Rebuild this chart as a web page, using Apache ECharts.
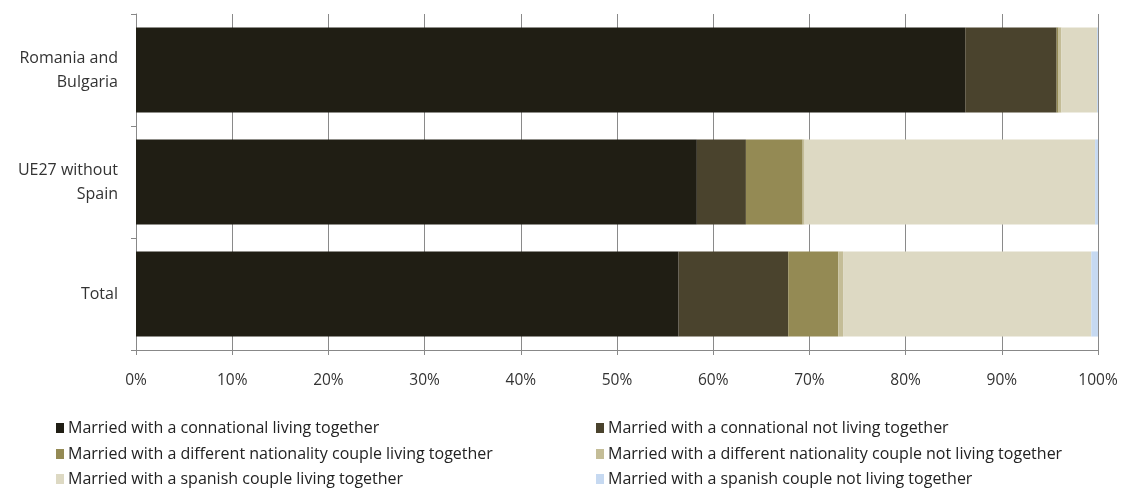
<!DOCTYPE html>
<html><head><meta charset="utf-8">
<script src="https://cdn.jsdelivr.net/npm/echarts@6/dist/echarts.min.js"></script>
<style>html,body{margin:0;padding:0;background:#fff}#c{width:1121px;height:488px}</style>
</head><body><div id="c"></div>
<script>
const categories = ["Romania and\nBulgaria", "UE27 without\nSpain", "Total"];
const seriesNames = [
  "Married with a connational living together",
  "Married with a connational not living together",
  "Married with a different nationality couple living together",
  "Married with a different nationality couple not living together",
  "Married with a spanish couple living together",
  "Married with a spanish couple not living together"
];
const connationalTogether = [86.2, 58.3, 56.4];
const connationalApart = [9.5, 5.1, 11.4];
const diffNatTogether = [0.2, 5.9, 5.2];
const diffNatApart = [0.3, 0.2, 0.5];
const spanishTogether = [3.7, 30.2, 25.8];
const spanishApart = [0.1, 0.3, 0.7];
const xTicks = [0, 10, 20, 30, 40, 50, 60, 70, 80, 90, 100];

const values = [connationalTogether, connationalApart, diffNatTogether, diffNatApart, spanishTogether, spanishApart];
const colors = ["#201e14", "#4a432d", "#948a54", "#c4bd97", "#ddd9c3", "#c6d9f1"];
const font = "'Open Sans', sans-serif";

const legendPos = [[56, 420], [596, 420], [56, 446], [596, 446], [56, 471], [596, 471]];

const chart = echarts.init(document.getElementById('c'));
chart.setOption({
  animation: false,
  backgroundColor: '#fff',
  color: colors,
  grid: { left: 136, right: 23, top: 14, bottom: 138 },
  xAxis: {
    type: 'value', min: xTicks[0], max: xTicks[xTicks.length - 1], interval: 10,
    axisLine: { show: true, lineStyle: { color: '#888', width: 1 } },
    axisTick: { show: true, length: 5, lineStyle: { color: '#888' } },
    splitLine: { show: true, lineStyle: { color: '#8a8a8a', width: 1 } },
    axisLabel: { formatter: '{value}%', color: '#333', fontSize: 15.5, margin: 23, fontFamily: font }
  },
  yAxis: {
    type: 'category', data: categories, inverse: true,
    axisLine: { show: true, lineStyle: { color: '#888', width: 1 } },
    axisTick: { show: true, length: 5, lineStyle: { color: '#888' } },
    axisLabel: { color: '#333', fontSize: 16, margin: 18, lineHeight: 24, fontFamily: font, align: 'right' }
  },
  legend: seriesNames.map((n, i) => ({
    left: legendPos[i][0], top: legendPos[i][1], padding: 0,
    itemWidth: 8, itemHeight: 10, itemGap: 0,
    icon: 'rect', data: [n],
    textStyle: { fontSize: 16, color: '#222', fontFamily: font, padding: [0, 0, 0, -1] }
  })),
  series: seriesNames.map((n, i) => ({
    name: n, type: 'bar', stack: 'all', data: values[i],
    barCategoryGap: '24%',
    itemStyle: { color: colors[i] }
  }))
});
</script></body></html>
